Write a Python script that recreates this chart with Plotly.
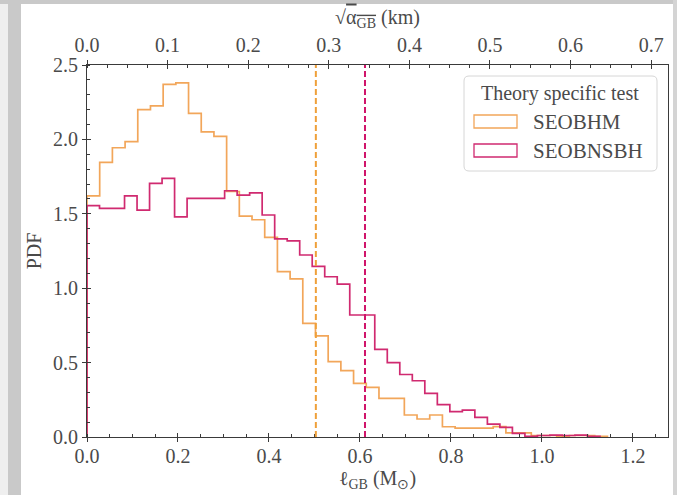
import plotly.graph_objects as go

# ---------------- data ----------------
seobhm_label = "SEOBHM"
seobnsbh_label = "SEOBNSBH"
legend_title = "Theory specific test"

# histogram bin widths (in M_sun) and PDF values per bin, starting at 0
seobhm_bin_width = 0.0279
seobhm_pdf = [1.62, 1.846, 1.944, 1.985, 2.20, 2.225, 2.37, 2.38, 2.175, 2.05, 2.02,
              1.65, 1.485, 1.46, 1.342, 1.111, 1.063, 0.764, 0.679, 0.506, 0.446,
              0.361, 0.334, 0.26, 0.26, 0.148, 0.121, 0.148, 0.069, 0.06, 0.06,
              0.06, 0.07, 0.028, 0.028, 0.01, 0.01, 0.005, 0.01, 0.01, 0.005]

seobnsbh_bin_width = 0.0275
seobnsbh_pdf = [1.555, 1.537, 1.537, 1.62, 1.525, 1.705, 1.738, 1.48, 1.604, 1.604, 1.604,
                1.655, 1.626, 1.64, 1.492, 1.332, 1.318, 1.223, 1.147, 1.077, 1.028,
                0.82, 0.82, 0.589, 0.50, 0.42, 0.378, 0.293, 0.218, 0.17, 0.18,
                0.132, 0.087, 0.065, 0.025, 0.005, 0.01, 0.012, 0.01, 0.012, 0.005]

# dashed vertical markers (M_sun)
seobhm_marker = 0.503
seobnsbh_marker = 0.611

# axes
x_range = [0.0, 1.277]
km_per_lgb = 0.5645          # conversion of bottom axis to sqrt(alpha_GB) in km
y_range = [0.0, 2.5]
x_ticks = [0.0, 0.2, 0.4, 0.6, 0.8, 1.0, 1.2]
x_ticklabels = ["0.0", "0.2", "0.4", "0.6", "0.8", "1.0", "1.2"]
top_ticks = [0.0, 0.1, 0.2, 0.3, 0.4, 0.5, 0.6, 0.7]
top_ticklabels = ["0.0", "0.1", "0.2", "0.3", "0.4", "0.5", "0.6", "0.7"]
y_ticks = [0.0, 0.5, 1.0, 1.5, 2.0, 2.5]
y_ticklabels = ["0.0", "0.5", "1.0", "1.5", "2.0", "2.5"]

# ---------------- styles ----------------
ORANGE = "#F2A65A"
ORANGE_DASH = "#EFA03A"
MAGENTA = "#D02A70"
MAGENTA_DASH = "#D0146A"
AXC = "#3a3a3a"
TXT = "#4a4a4a"
FONT = "Liberation Serif, serif"

W, H = 677, 495
L, R, T, B = 87, 9, 65, 58
PW, PH = W - L - R, H - T - B


def px(xp):
    return (xp - L) / PW


def py(yp):
    return (H - B - yp) / PH


def step_xy(width, vals):
    edges = [i * width for i in range(len(vals) + 1)]
    return [0.0] + edges, [0.0] + list(vals) + [0.0]


fig = go.Figure()

for vals, width, col, name in [(seobhm_pdf, seobhm_bin_width, ORANGE, seobhm_label),
                               (seobnsbh_pdf, seobnsbh_bin_width, MAGENTA, seobnsbh_label)]:
    xs, ys = step_xy(width, vals)
    fig.add_trace(go.Scatter(x=xs, y=ys, mode="lines", line=dict(color=col, width=1.7, shape="hv"),
                             name=name, showlegend=False, hoverinfo="skip"))

# dummy traces to bind helper axes
for xa, ya in [("x2", "y"), ("x3", "y"), ("x4", "y"), ("x", "y2")]:
    fig.add_trace(go.Scatter(x=[0], y=[0], xaxis=xa, yaxis=ya, mode="markers",
                             marker=dict(opacity=0), showlegend=False, hoverinfo="skip"))

tickfont = dict(family=FONT, size=20, color=TXT)

fig.update_layout(
    width=W, height=H,
    margin=dict(l=L, r=R, t=T, b=B),
    paper_bgcolor="white", plot_bgcolor="white",
    font=dict(family=FONT, size=20, color=TXT),
    showlegend=False,
    xaxis=dict(range=x_range, tickvals=x_ticks, ticktext=x_ticklabels, ticks="outside", ticklen=4,
               tickcolor=AXC, tickfont=tickfont, showline=True, linecolor=AXC, linewidth=1,
               showgrid=False, zeroline=False, mirror=True, ticklabelstandoff=-3,
               minor=dict(ticks="inside", ticklen=3, dtick=0.05, tick0=0, tickcolor=AXC, showgrid=False),
               title=dict(text="ℓ<sub>GB</sub> (M<sub>⊙</sub>)", font=dict(family=FONT, size=20, color=TXT),
                          standoff=2)),
    xaxis3=dict(range=x_range, overlaying="x", side="bottom", anchor="y", tickvals=x_ticks,
                ticks="inside", ticklen=4, tickcolor=AXC, showticklabels=False, showline=False,
                showgrid=False, zeroline=False),
    xaxis2=dict(range=[x_range[0] * km_per_lgb, x_range[1] * km_per_lgb], overlaying="x", side="top",
                anchor="y", tickvals=top_ticks, ticktext=top_ticklabels, ticks="outside", ticklen=4,
                tickcolor=AXC, tickfont=tickfont, showline=True, linecolor=AXC, linewidth=1,
                showgrid=False, zeroline=False,
                minor=dict(ticks="inside", ticklen=3, dtick=0.025, tick0=0, tickcolor=AXC, showgrid=False),
                title=dict(text="√<span style='text-decoration:overline'>α<sub>GB</sub></span> (km)",
                           font=dict(family=FONT, size=20, color=TXT), standoff=4)),
    xaxis4=dict(range=[x_range[0] * km_per_lgb, x_range[1] * km_per_lgb], overlaying="x", side="top",
                anchor="y", tickvals=top_ticks, ticks="inside", ticklen=4, tickcolor=AXC,
                showticklabels=False, showline=False, showgrid=False, zeroline=False),
    yaxis=dict(range=y_range, tickvals=y_ticks, ticktext=y_ticklabels, ticks="outside", ticklen=4,
               tickcolor=AXC, tickfont=tickfont, showline=True, linecolor=AXC, linewidth=1,
               mirror=True, showgrid=False, zeroline=False,
               minor=dict(ticks="inside", ticklen=3, dtick=0.1, tick0=0, tickcolor=AXC, showgrid=False),
               title=dict(text="PDF", font=dict(family=FONT, size=20, color=TXT), standoff=6)),
    yaxis2=dict(range=y_range, overlaying="y", side="left", anchor="x", tickvals=y_ticks,
                ticks="inside", ticklen=4, tickcolor=AXC, showticklabels=False, showline=False,
                showgrid=False, zeroline=False),
)

shapes = []
# dashed markers
for xv, col in [(seobhm_marker, ORANGE_DASH), (seobnsbh_marker, MAGENTA_DASH)]:
    shapes.append(dict(type="line", xref="x", yref="y domain", x0=xv, x1=xv, y0=0, y1=1,
                       line=dict(color=col, width=2, dash="6px,3px")))

# screenshot frame strips
shapes.append(dict(type="rect", xref="paper", yref="paper", layer="below",
                   x0=px(0), x1=px(8), y0=py(H), y1=py(0), line=dict(width=0), fillcolor="#efefef"))
shapes.append(dict(type="rect", xref="paper", yref="paper", layer="below",
                   x0=px(8), x1=px(21), y0=py(H), y1=py(0), line=dict(width=0), fillcolor="#c9c9c9"))
shapes.append(dict(type="rect", xref="paper", yref="paper", layer="below",
                   x0=px(0), x1=px(W), y0=py(4), y1=py(0), line=dict(width=0), fillcolor="#c9c9c9"))
shapes.append(dict(type="rect", xref="paper", yref="paper", layer="below",
                   x0=px(673), x1=px(W), y0=py(H), y1=py(0), line=dict(width=0), fillcolor="#d4d4d4"))

# legend box with rounded corners
bx0, bx1, by0, by1, r = 464, 657, 76, 171, 5
path = (f"M {px(bx0 + r)},{py(by0)} L {px(bx1 - r)},{py(by0)} Q {px(bx1)},{py(by0)} {px(bx1)},{py(by0 + r)} "
        f"L {px(bx1)},{py(by1 - r)} Q {px(bx1)},{py(by1)} {px(bx1 - r)},{py(by1)} "
        f"L {px(bx0 + r)},{py(by1)} Q {px(bx0)},{py(by1)} {px(bx0)},{py(by1 - r)} "
        f"L {px(bx0)},{py(by0 + r)} Q {px(bx0)},{py(by0)} {px(bx0 + r)},{py(by0)} Z")
shapes.append(dict(type="path", xref="paper", yref="paper", path=path,
                   line=dict(color="#d6d6d6", width=1), fillcolor="rgba(255,255,255,0.85)"))
# legend patches
for (y0p, y1p), col in [((115, 128), ORANGE), ((144, 157), MAGENTA)]:
    shapes.append(dict(type="rect", xref="paper", yref="paper", x0=px(474), x1=px(517),
                       y0=py(y1p), y1=py(y0p), line=dict(color=col, width=1.3), fillcolor="white"))
fig.update_layout(shapes=shapes)

lfont = dict(family=FONT, size=21, color=TXT)
fig.update_layout(annotations=[
    dict(text=legend_title, xref="paper", yref="paper", x=px(559.5), y=py(93), xanchor="center",
         yanchor="middle", showarrow=False, font=dict(family=FONT, size=20, color=TXT)),
    dict(text=seobhm_label, xref="paper", yref="paper", x=px(531), y=py(122), xanchor="left",
         yanchor="middle", showarrow=False, font=lfont),
    dict(text=seobnsbh_label, xref="paper", yref="paper", x=px(531), y=py(151), xanchor="left",
         yanchor="middle", showarrow=False, font=lfont),
])

fig.write_html("out.html", config={"displayModeBar": False},
               post_script="document.body.style.margin='0';document.body.style.padding='0';"
                           "document.documentElement.style.overflow='hidden';")
